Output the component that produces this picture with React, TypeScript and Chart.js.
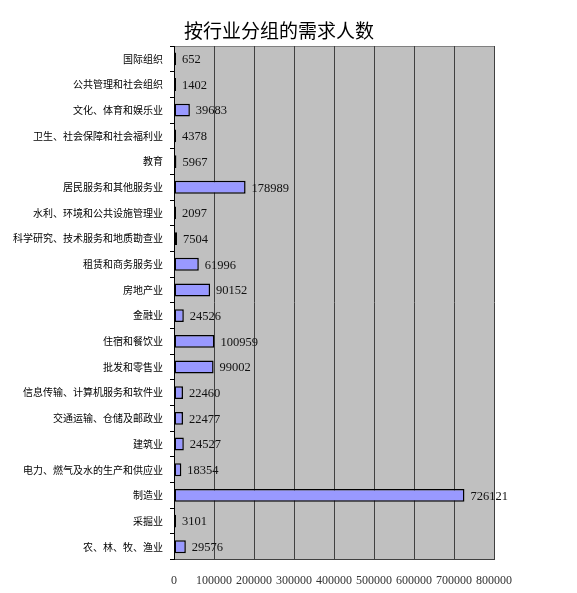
import React, { useEffect, useRef } from 'react';
import { Chart, registerables } from 'chart.js';

Chart.register(...registerables);

const titleText = '按行业分组的需求人数';

const industries = [
  '国际组织',
  '公共管理和社会组织',
  '文化、体育和娱乐业',
  '卫生、社会保障和社会福利业',
  '教育',
  '居民服务和其他服务业',
  '水利、环境和公共设施管理业',
  '科学研究、技术服务和地质勘查业',
  '租赁和商务服务业',
  '房地产业',
  '金融业',
  '住宿和餐饮业',
  '批发和零售业',
  '信息传输、计算机服务和软件业',
  '交通运输、仓储及邮政业',
  '建筑业',
  '电力、燃气及水的生产和供应业',
  '制造业',
  '采掘业',
  '农、林、牧、渔业',
];

const demand = [
  652, 1402, 39683, 4378, 5967, 178989, 2097, 7504, 61996, 90152,
  24526, 100959, 99002, 22460, 22477, 24527, 18354, 726121, 3101, 29576,
];

const xMin = 0;
const xMax = 800000;
const xStep = 100000;

const App: React.FC = () => {
  const chartRef = useRef<HTMLCanvasElement>(null);
  const chartInstance = useRef<Chart | null>(null);

  useEffect(() => {
    if (!chartRef.current) return;
    if (chartInstance.current) chartInstance.current.destroy();
    const ctx = chartRef.current.getContext('2d');
    if (!ctx) return;

    // grey plot area + title drawn by hand
    const backdrop = {
      id: 'backdrop',
      beforeDraw(chart: any) {
        const { ctx, chartArea } = chart;
        ctx.save();
        ctx.fillStyle = '#c0c0c0';
        ctx.fillRect(chartArea.left, chartArea.top, chartArea.right - chartArea.left, chartArea.bottom - chartArea.top);
        ctx.strokeStyle = '#808080';
        ctx.lineWidth = 1;
        ctx.beginPath();
        ctx.moveTo(chartArea.left, chartArea.top + 0.5);
        ctx.lineTo(chartArea.right, chartArea.top + 0.5);
        ctx.stroke();
        ctx.fillStyle = '#000';
        ctx.font = '19px "Noto Sans CJK SC", sans-serif';
        ctx.textAlign = 'center';
        ctx.textBaseline = 'middle';
        ctx.fillText(titleText, 279, 31);
        ctx.restore();
      },
    };

    const valueLabels = {
      id: 'valueLabels',
      afterDatasetsDraw(chart: any) {
        const { ctx } = chart;
        const meta = chart.getDatasetMeta(0);
        ctx.save();
        ctx.fillStyle = '#111';
        ctx.font = '12.5px "Liberation Serif", serif';
        ctx.textAlign = 'left';
        ctx.textBaseline = 'middle';
        meta.data.forEach((bar: any, i: number) => {
          ctx.fillText(String(demand[i]), bar.x + 6, bar.y + 1);
        });
        ctx.restore();
      },
    };

    chartInstance.current = new Chart(ctx, {
      type: 'bar',
      data: {
        labels: industries,
        datasets: [
          {
            data: demand,
            backgroundColor: '#9999ff',
            borderColor: '#000000',
            borderWidth: 1.5,
            borderSkipped: false,
            barPercentage: 0.5,
            categoryPercentage: 1,
            minBarLength: 2,
          },
        ],
      },
      options: {
        indexAxis: 'y',
        animation: false,
        responsive: false,
        maintainAspectRatio: false,
        layout: { padding: { top: 46, right: 83, left: 0, bottom: -9 } },
        plugins: {
          legend: { display: false },
          tooltip: { enabled: false },
          title: { display: false },
        },
        scales: {
          x: {
            min: xMin,
            max: xMax,
            ticks: {
              stepSize: xStep,
              color: '#333',
              padding: 14,
              maxRotation: 0,
              minRotation: 0,
              autoSkip: false,
              callback: (v: any) => String(v),
              font: { size: 12, family: '"Liberation Serif", serif' },
            },
            grid: { color: '#404040', lineWidth: 1, drawTicks: false },
            border: { color: '#404040', width: 1 },
          },
          y: {
            afterFit: (scale: any) => {
              scale.width = 174;
            },
            ticks: {
              color: '#000',
              padding: 7,
              autoSkip: false,
              font: { size: 10, family: '"Noto Sans CJK SC", sans-serif' },
            },
            grid: { offset: true, drawOnChartArea: false, drawTicks: true, tickLength: 4, color: '#000' },
            border: { color: '#000', width: 1 },
          },
        },
      },
      plugins: [backdrop, valueLabels],
    });

    return () => {
      if (chartInstance.current) {
        chartInstance.current.destroy();
        chartInstance.current = null;
      }
    };
  }, []);

  return (
    <div style={{ position: 'fixed', left: 0, top: 0, width: 577, height: 593, background: '#fff' }}>
      <canvas ref={chartRef} width={577} height={593} style={{ width: 577, height: 593 }}></canvas>
    </div>
  );
};

export default App;
